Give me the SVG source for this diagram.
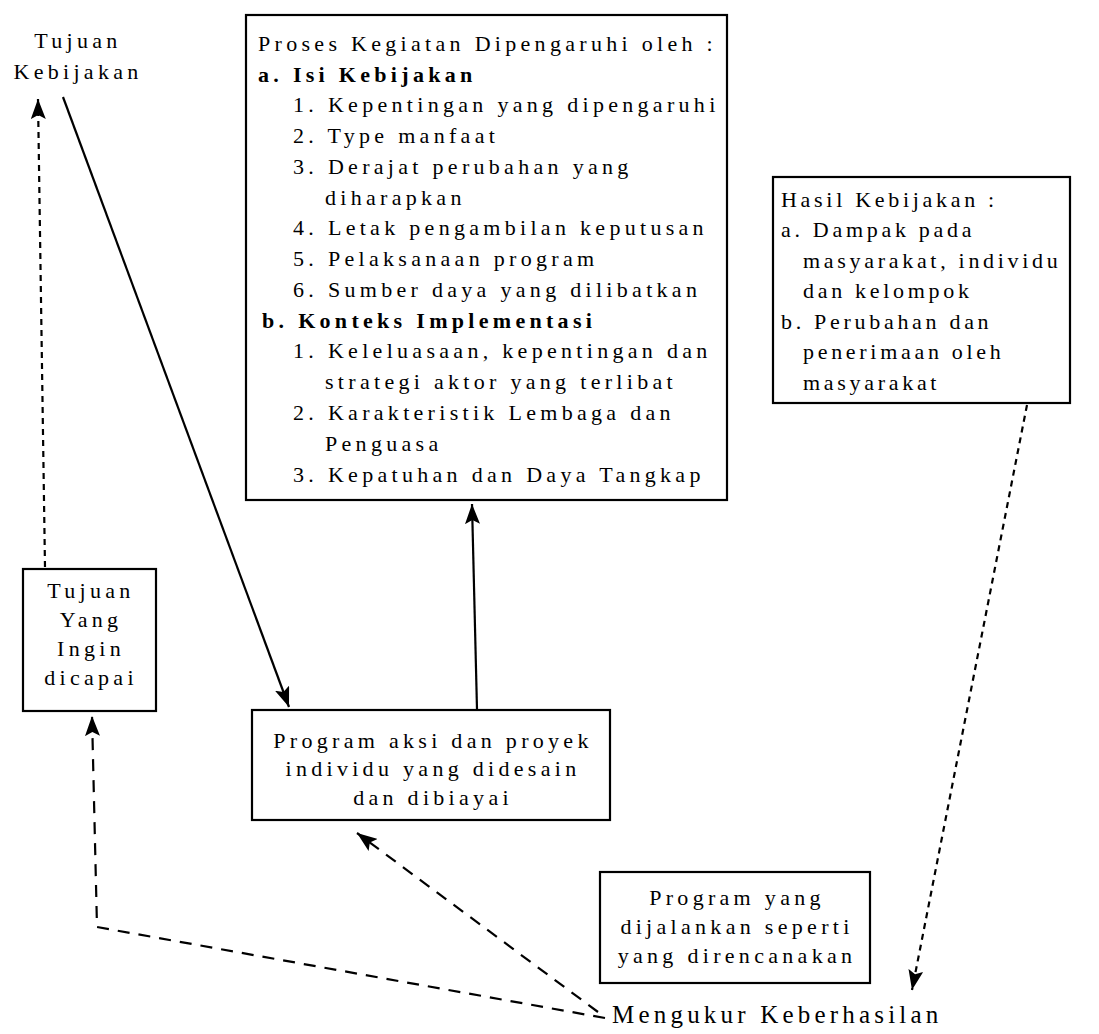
<svg xmlns="http://www.w3.org/2000/svg" width="1099" height="1034" viewBox="0 0 1099 1034">
<defs>
<style>
text{font-family:"Liberation Serif","Times New Roman",serif;font-size:22px;letter-spacing:4.3px;fill:#000}
.b{font-weight:bold}
.c{text-anchor:middle}
.h{letter-spacing:3.7px}
.box{fill:#fff;stroke:#000;stroke-width:2.2}
.ln{fill:none;stroke:#000;stroke-width:2.2}
.d1{stroke-dasharray:6 5}
.d2{stroke-dasharray:12 9}
</style>
<marker id="ah" markerUnits="userSpaceOnUse" markerWidth="21" markerHeight="15" refX="20" refY="7.5" orient="auto">
<path d="M0,0 L20,7.5 L0,15 L4,7.5 z" fill="#000"/>
</marker>
</defs>
<rect width="1099" height="1034" fill="#fff"/>

<g id="connectors">
<line class="ln d1" x1="45" y1="567" x2="38" y2="99" marker-end="url(#ah)"/>
<line class="ln" x1="63" y1="97" x2="289" y2="707" marker-end="url(#ah)"/>
<line class="ln" x1="477" y1="709" x2="472" y2="504" marker-end="url(#ah)"/>
<line class="ln d1" x1="1027" y1="405" x2="912" y2="990" marker-end="url(#ah)"/>
<line class="ln d2" x1="598" y1="1012" x2="357" y2="833" marker-end="url(#ah)"/>
<polyline class="ln d2" points="605,1018 97,927 92,716" marker-end="url(#ah)"/>
</g>

<g id="tujuan-kebijakan">
<text class="c" x="78" y="48">Tujuan</text>
<text class="c" x="78" y="79">Kebijakan</text>
</g>

<g id="proses">
<rect class="box" x="246" y="15" width="481" height="485"/>
<text x="258" y="51">Proses Kegiatan Dipengaruhi oleh :</text>
<text class="b" x="258" y="82">a. Isi Kebijakan</text>
<text x="293" y="112">1. Kepentingan yang dipengaruhi</text>
<text x="293" y="143">2. Type manfaat</text>
<text x="293" y="174">3. Derajat perubahan yang</text>
<text x="325" y="205">diharapkan</text>
<text x="293" y="235">4. Letak pengambilan keputusan</text>
<text x="293" y="266">5. Pelaksanaan program</text>
<text x="293" y="297">6. Sumber daya yang dilibatkan</text>
<text class="b" x="262" y="328">b. Konteks Implementasi</text>
<text x="293" y="358">1. Keleluasaan, kepentingan dan</text>
<text x="325" y="389">strategi aktor yang terlibat</text>
<text x="293" y="420">2. Karakteristik Lembaga dan</text>
<text x="325" y="451">Penguasa</text>
<text x="293" y="482">3. Kepatuhan dan Daya Tangkap</text>
</g>

<g id="hasil">
<rect class="box" x="773" y="177" width="297" height="226"/>
<text class="h" x="781" y="207">Hasil Kebijakan :</text>
<text class="h" x="781" y="237">a. Dampak pada</text>
<text class="h" x="803" y="268">masyarakat, individu</text>
<text class="h" x="803" y="298">dan kelompok</text>
<text class="h" x="781" y="329">b. Perubahan dan</text>
<text class="h" x="803" y="359">penerimaan oleh</text>
<text class="h" x="803" y="390">masyarakat</text>
</g>

<g id="tujuan-yang">
<rect class="box" x="23" y="569" width="133" height="142"/>
<text class="c" x="91" y="598">Tujuan</text>
<text class="c" x="91" y="627">Yang</text>
<text class="c" x="91" y="656">Ingin</text>
<text class="c" x="91" y="685">dicapai</text>
</g>

<g id="program-aksi">
<rect class="box" x="252" y="710" width="358" height="110"/>
<text class="c" x="433" y="748">Program aksi dan proyek</text>
<text class="c" x="433" y="776">individu yang didesain</text>
<text class="c" x="433" y="805">dan dibiayai</text>
</g>

<g id="program-yang">
<rect class="box" x="600" y="872" width="270" height="111"/>
<text class="c" x="737" y="905">Program yang</text>
<text class="c" x="737" y="934">dijalankan seperti</text>
<text class="c" x="737" y="963">yang direncanakan</text>
</g>

<g id="mengukur">
<text x="612" y="1023" style="font-size:25px;letter-spacing:4.2px">Mengukur Keberhasilan</text>
</g>
</svg>
